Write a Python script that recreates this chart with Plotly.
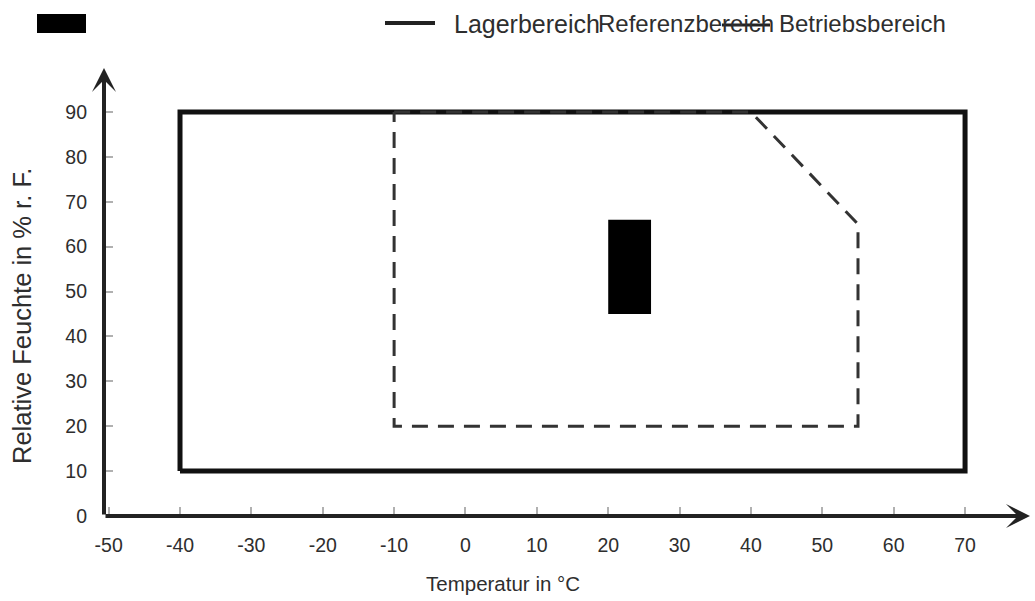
import plotly.graph_objects as go

# ---- data ----
lager_temp = [-40, 70, 70, -40, -40]
lager_hum = [10, 10, 90, 90, 10]

betrieb_temp = [-10, 40, 55, 55, -10, -10]
betrieb_hum = [90, 90, 65, 20, 20, 90]

referenz_temp = [20, 26, 26, 20, 20]
referenz_hum = [45, 45, 66, 66, 45]

x_ticks = [-50, -40, -30, -20, -10, 0, 10, 20, 30, 40, 50, 60, 70]
x_ticktext = ["-50", "-40", "-30", "-20", "-10", "0", "10", "20", "30", "40", "50", "60", "70"]
y_ticks = [0, 10, 20, 30, 40, 50, 60, 70, 80, 90]

legend_names = ["Lagerbereich", "Referenzbereich", "Betriebsbereich"]

FONT = "Liberation Sans, Arial, Helvetica, sans-serif"
TXT = "#2e2e2e"

X_MIN, X_MAX = -50.65, 79.1
Y_MIN, Y_MAX = 0, 99.8

fig = go.Figure()

fig.add_trace(go.Scatter(x=lager_temp, y=lager_hum, mode="lines",
                         line=dict(color="#111111", width=5),
                         name=legend_names[0], showlegend=False, hoverinfo="skip"))
fig.add_trace(go.Scatter(x=betrieb_temp, y=betrieb_hum, mode="lines",
                         line=dict(color="#333333", width=3, dash="16px,10px"),
                         name=legend_names[2], showlegend=False, hoverinfo="skip"))
fig.add_trace(go.Scatter(x=referenz_temp, y=referenz_hum, mode="lines",
                         fill="toself", fillcolor="#000000",
                         line=dict(color="#000000", width=0),
                         name=legend_names[1], showlegend=False, hoverinfo="skip"))

# axis arrows
fig.add_annotation(x=X_MAX, y=0, ax=X_MIN, ay=0, xref="x", yref="y", axref="x", ayref="y",
                   text="", showarrow=True, arrowhead=3, arrowwidth=4, arrowsize=1.0,
                   arrowcolor="#222222", standoff=0)
fig.add_annotation(x=X_MIN, y=Y_MAX, ax=X_MIN, ay=0, xref="x", yref="y", axref="x", ayref="y",
                   text="", showarrow=True, arrowhead=3, arrowwidth=4, arrowsize=1.0,
                   arrowcolor="#222222", standoff=0)

# axis titles
fig.add_annotation(text="Temperatur in °C", xref="paper", yref="paper",
                   x=(503 - 104) / 926, y=(516 - 583) / 448, showarrow=False,
                   xanchor="center", yanchor="middle",
                   font=dict(family=FONT, size=20.5, color=TXT))
fig.add_annotation(text="Relative Feuchte in % r. F.", xref="paper", yref="paper",
                   x=(22 - 104) / 926, y=(516 - 316) / 448, showarrow=False, textangle=-90,
                   xanchor="center", yanchor="middle",
                   font=dict(family=FONT, size=25.5, color=TXT))

# manual legend (overlapping, as in reference)
def px_x(p):
    return (p - 104) / 926

def px_y(p):
    return (516 - p) / 448

fig.add_shape(type="rect", xref="paper", yref="paper",
              x0=px_x(37), x1=px_x(86), y0=px_y(33), y1=px_y(14),
              fillcolor="#000000", line=dict(width=0))
fig.add_shape(type="line", xref="paper", yref="paper",
              x0=px_x(385), x1=px_x(435), y0=px_y(23), y1=px_y(23),
              line=dict(color="#222222", width=4))
fig.add_annotation(text=legend_names[0], xref="paper", yref="paper",
                   x=px_x(452), y=px_y(24), xanchor="left", yanchor="middle",
                   showarrow=False, font=dict(family=FONT, size=25, color=TXT))
fig.add_annotation(text=legend_names[1], xref="paper", yref="paper",
                   x=px_x(596), y=px_y(24), xanchor="left", yanchor="middle",
                   showarrow=False, font=dict(family=FONT, size=24, color=TXT))
fig.add_shape(type="line", xref="paper", yref="paper",
              x0=px_x(722), x1=px_x(770), y0=px_y(25), y1=px_y(25),
              line=dict(color="#222222", width=3))
fig.add_annotation(text=legend_names[2], xref="paper", yref="paper",
                   x=px_x(777), y=px_y(24), xanchor="left", yanchor="middle",
                   showarrow=False, font=dict(family=FONT, size=24, color=TXT))

fig.update_xaxes(range=[X_MIN, X_MAX], tickvals=x_ticks, ticktext=x_ticktext,
                 ticks="inside", ticklen=9, tickwidth=1.5, tickcolor="#b0b0b0",
                 showgrid=False, zeroline=False, showline=False,
                 ticklabelstandoff=15,
                 tickfont=dict(family=FONT, size=19.5, color=TXT))
fig.update_yaxes(range=[Y_MIN, Y_MAX], tickvals=y_ticks,
                 ticks="inside", ticklen=9, tickwidth=1.5, tickcolor="#b0b0b0",
                 showgrid=False, zeroline=False, showline=False,
                 ticklabelstandoff=16,
                 tickfont=dict(family=FONT, size=19.5, color=TXT))

fig.update_layout(width=1035, height=601,
                  margin=dict(l=104, r=5, t=68, b=85),
                  plot_bgcolor="white", paper_bgcolor="white",
                  showlegend=False)

fig.write_html("out.html")
